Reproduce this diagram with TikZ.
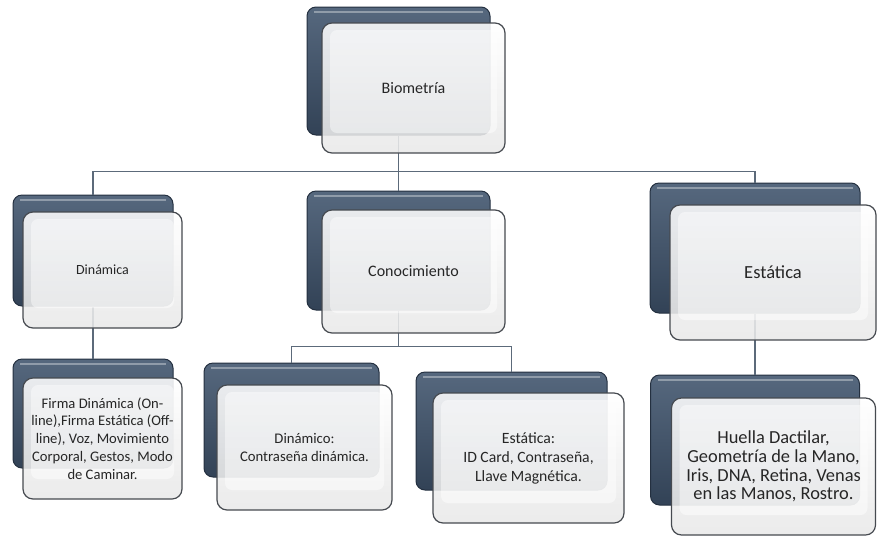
\documentclass[tikz,border=0pt]{standalone}
\usepackage{fontspec}
\setmainfont{Carlito}
\usetikzlibrary{positioning}
\definecolor{navyTop}{RGB}{86,104,126}
\definecolor{navyBot}{RGB}{50,66,86}
\definecolor{navyEdge}{RGB}{36,48,64}
\definecolor{linkGray}{RGB}{92,106,122}
\definecolor{frameGray}{RGB}{70,74,80}

\begin{document}
\begin{tikzpicture}[x=1pt, y=-1pt, semithick,
back/.style = {rectangle, rounded corners=9pt, draw=navyEdge, line width=1pt, top color=navyTop, bottom color=navyBot, inner sep=0pt,
  path picture={\draw[white, opacity=.35, line width=1.4pt] ([shift={(7pt,-5pt)}]path picture bounding box.north west) -- ([shift={(-7pt,-5pt)}]path picture bounding box.north east);}},
front/.style = {rectangle, rounded corners=10pt, draw=frameGray, line width=1.2pt, top color=white, bottom color=gray!18, fill opacity=.88, text opacity=1, text=black!85, align=center, inner sep=0pt,
  path picture={\fill[white, opacity=.45, rounded corners=7pt] ([shift={(8pt,-7pt)}]path picture bounding box.north west) rectangle ([shift={(-8pt,20pt)}]path picture bounding box.south east);}},
link/.style = {draw=linkGray, line width=1.1pt}]
\useasboundingbox (0,0) rectangle (877,542);
% back plates
\node[back, minimum width=183pt, minimum height=128pt] (bioB) at (398.5,71) {};
\node[back, minimum width=160pt, minimum height=111pt] (dinB) at (93,250.5) {};
\node[back, minimum width=183pt, minimum height=119pt] (conB) at (398.5,250.5) {};
\node[back, minimum width=210pt, minimum height=130pt] (estB) at (755,248) {};
\node[back, minimum width=160pt, minimum height=109pt] (firB) at (93,413.5) {};
\node[back, minimum width=175pt, minimum height=114pt] (dnmB) at (291.5,420) {};
\node[back, minimum width=191pt, minimum height=118pt] (es2B) at (511.5,431) {};
\node[back, minimum width=209pt, minimum height=130pt] (hueB) at (755,440) {};
% connectors
\foreach \c in {dinB, conB, estB}
  \draw[link] (bioB.south) -- ++(0,36) -| (\c.north);
\foreach \c in {dnmB, es2B}
  \draw[link] (conB.south) -- ++(0,36) -| (\c.north);
\draw[link] (dinB.south) -- (firB.north);
\draw[link] (estB.south) -- (hueB.north);
% front cards
\node[front, minimum width=183pt, minimum height=130pt, font=\fontsize{16}{19}\selectfont] (bio) at (413.5,88) {Biometría};
\node[front, minimum width=159pt, minimum height=116pt, font=\fontsize{14}{17}\selectfont] (din) at (102.5,270) {Dinámica};
\node[front, minimum width=183pt, minimum height=123pt, font=\fontsize{16}{19}\selectfont] (con) at (413.5,271.5) {Conocimiento};
\node[front, minimum width=206pt, minimum height=135pt, font=\fontsize{18.5}{22}\selectfont] (est) at (773,272.5) {Estática};
\node[front, minimum width=159pt, minimum height=121pt, font=\fontsize{14.6}{17.8}\selectfont] (fir) at (102.5,438.5)
  {Firma Dinámica (On-\\line),Firma Estática (Off-\\line), Voz, Movimiento\\Corporal, Gestos, Modo\\de Caminar.};
\node[front, minimum width=175pt, minimum height=125pt, font=\fontsize{14.7}{18}\selectfont] (dnm) at (304.5,447.5)
  {Dinámico:\\Contraseña dinámica.};
\node[front, minimum width=191pt, minimum height=130pt, font=\fontsize{15.7}{19}\selectfont] (es2) at (528.5,458)
  {Estática:\\ID Card, Contraseña,\\Llave Magnética.};
\node[front, minimum width=204pt, minimum height=137pt, font=\fontsize{18.4}{18.6}\selectfont] (hue) at (773.5,466.5)
  {Huella Dactilar,\\Geometría de la Mano,\\Iris, DNA,  Retina, Venas\\en las Manos, Rostro.};
\end{tikzpicture}
\end{document}
